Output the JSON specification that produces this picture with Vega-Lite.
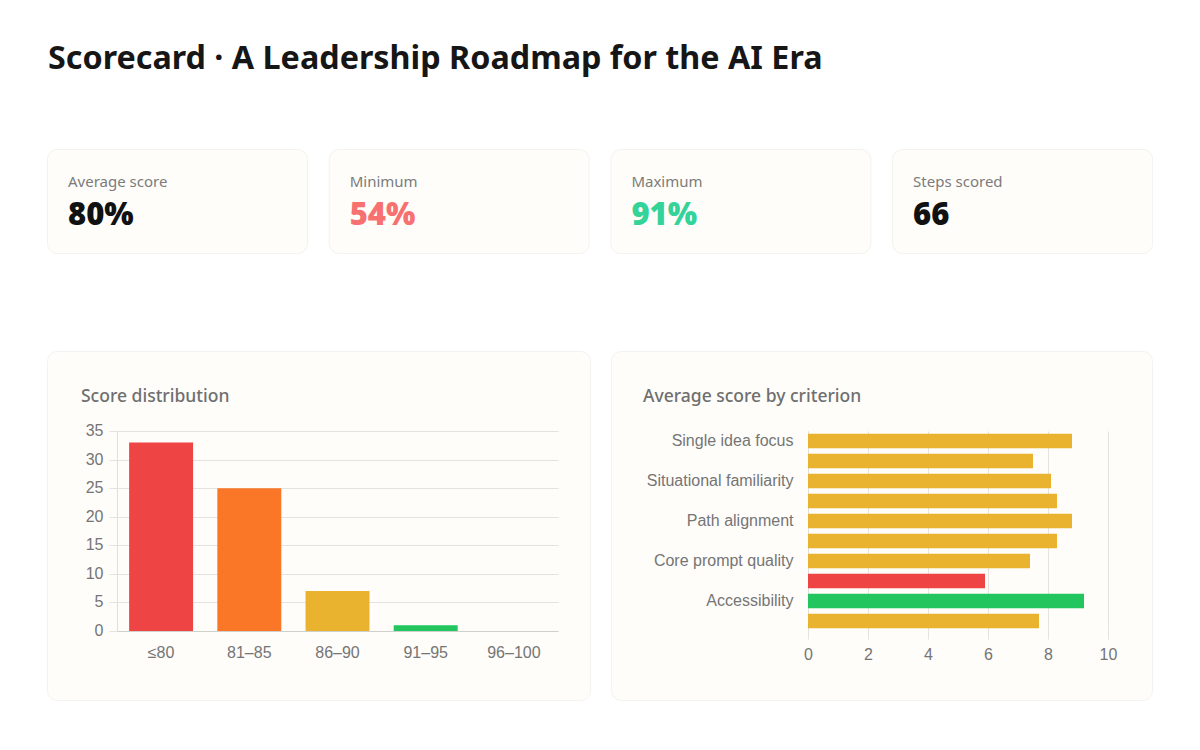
{
  "$schema": "https://vega.github.io/schema/vega-lite/v6.json",
  "background": "white",
  "padding": {"left": 46, "top": 43, "right": 0, "bottom": 0},
  "title": {
    "text": "Scorecard · A Leadership Roadmap for the AI Era",
    "anchor": "start",
    "frame": "group",
    "dx": 1,
    "offset": 73,
    "font": "Noto Sans",
    "fontSize": 32.3,
    "fontWeight": 700,
    "color": "#161616"
  },
  "config": {
    "font": "Liberation Sans",
    "view": {"fill": "#fefdfa", "stroke": "#f3f2ee", "strokeWidth": 1, "cornerRadius": 10},
    "title": {"font": "Noto Sans", "fontSize": 17.5, "fontWeight": 500, "color": "#6f6f6f", "anchor": "start", "frame": "group"},
    "axis": {
      "labelFont": "Liberation Sans",
      "labelFontSize": 16,
      "labelColor": "#757575",
      "gridColor": "#e4e3df",
      "domainColor": "#dededa",
      "tickColor": "#e4e3df",
      "tickSize": 8,
      "title": null
    }
  },
  "resolve": {"scale": {"color": "independent"}},
  "spacing": 96,
  "vconcat": [
    {
      "data": {
        "values": [
          {"label": "Average score", "value": "80%", "tone": "neutral"},
          {"label": "Minimum", "value": "54%", "tone": "low"},
          {"label": "Maximum", "value": "91%", "tone": "high"},
          {"label": "Steps scored", "value": "66", "tone": "neutral"}
        ]
      },
      "facet": {
        "column": {
          "field": "label",
          "header": null,
          "sort": ["Average score", "Minimum", "Maximum", "Steps scored"]
        }
      },
      "spacing": 19.7,
      "spec": {
        "width": 260,
        "height": 104,
        "view": {"fill": "#fefdfa", "stroke": "#f3f2ee", "strokeWidth": 1, "cornerRadius": 10},
        "layer": [
          {
            "mark": {"type": "text", "align": "left", "baseline": "middle", "dx": -109, "dy": -19, "font": "Noto Sans", "fontSize": 15, "color": "#7b7b7b"},
            "encoding": {"text": {"field": "label"}}
          },
          {
            "mark": {"type": "text", "align": "left", "baseline": "middle", "dx": -109, "dy": 15, "font": "Noto Sans", "fontSize": 31, "fontWeight": 900},
            "encoding": {
              "text": {"field": "value"},
              "color": {
                "field": "tone",
                "scale": {"domain": ["neutral", "low", "high"], "range": ["#111111", "#f87171", "#34d399"]},
                "legend": null
              }
            }
          }
        ]
      }
    },
    {
      "spacing": 19,
      "resolve": {"scale": {"color": "independent"}},
      "hconcat": [
        {
          "width": 543,
          "height": 349,
          "title": {"text": "Score distribution", "offset": -54, "dx": 34},
          "data": {
            "values": [
              {"bucket": "≤80", "steps": 33},
              {"bucket": "81–85", "steps": 25},
              {"bucket": "86–90", "steps": 7},
              {"bucket": "91–95", "steps": 1},
              {"bucket": "96–100", "steps": 0}
            ]
          },
          "mark": "bar",
          "encoding": {
            "x": {
              "field": "bucket",
              "type": "nominal",
              "sort": null,
              "scale": {"range": [70, 511], "paddingInner": 0.275, "paddingOuter": 0.1375},
              "axis": {"offset": -69, "labelAngle": 0, "ticks": false, "labelPadding": 13, "domainColor": "#cfcfcb", "grid": false}
            },
            "y": {
              "field": "steps",
              "type": "quantitative",
              "scale": {"domain": [0, 35], "range": [280, 80], "nice": false},
              "axis": {"offset": -70, "values": [0, 5, 10, 15, 20, 25, 30, 35], "grid": true, "labelPadding": 6, "labelOffset": -0.5}
            },
            "color": {
              "field": "bucket",
              "sort": null,
              "scale": {"domain": ["≤80", "81–85", "86–90", "91–95", "96–100"], "range": ["#ef4444", "#f97726", "#eab32f", "#22c55e", "#16a34a"]},
              "legend": null
            }
          }
        },
        {
          "width": 541,
          "height": 349,
          "title": {"text": "Average score by criterion", "offset": -54, "dx": 32},
          "data": {
            "values": [
              {"criterion": "Single idea focus", "score": 8.8, "level": "mid"},
              {"criterion": "Criterion 2", "score": 7.5, "level": "mid"},
              {"criterion": "Situational familiarity", "score": 8.1, "level": "mid"},
              {"criterion": "Criterion 4", "score": 8.3, "level": "mid"},
              {"criterion": "Path alignment", "score": 8.8, "level": "mid"},
              {"criterion": "Criterion 6", "score": 8.3, "level": "mid"},
              {"criterion": "Core prompt quality", "score": 7.4, "level": "mid"},
              {"criterion": "Criterion 8", "score": 5.9, "level": "low"},
              {"criterion": "Accessibility", "score": 9.2, "level": "high"},
              {"criterion": "Criterion 10", "score": 7.7, "level": "mid"}
            ]
          },
          "encoding": {
            "y": {
              "field": "criterion",
              "type": "nominal",
              "sort": null,
              "scale": {"range": [80, 280], "paddingInner": 0.28, "paddingOuter": 0.14},
              "axis": {
                "offset": -197,
                "values": ["Single idea focus", "Situational familiarity", "Path alignment", "Core prompt quality", "Accessibility"],
                "ticks": false,
                "labelPadding": 15,
                "labelOffset": 0,
                "grid": false
              }
            },
            "color": {
              "field": "level",
              "scale": {"domain": ["mid", "low", "high"], "range": ["#eab32f", "#ef4444", "#22c55e"]},
              "legend": null
            }
          },
          "layer": [
            {
              "mark": {"type": "bar", "opacity": 0},
              "encoding": {
                "x": {
                  "field": "score",
                  "type": "quantitative",
                  "scale": {"domain": [0, 10], "range": [197, 497], "nice": false},
                  "axis": {"orient": "top", "offset": -80, "values": [0, 2, 4, 6, 8, 10], "grid": true, "labels": false, "ticks": false, "domain": false}
                }
              }
            },
            {
              "mark": "bar",
              "encoding": {
                "x": {
                  "field": "score",
                  "type": "quantitative",
                  "scale": {"domain": [0, 10], "range": [197, 497], "nice": false},
                  "axis": {"orient": "bottom", "offset": -69, "values": [0, 2, 4, 6, 8, 10], "grid": false, "domain": false, "labelPadding": 7, "labelAngle": 0, "labelFlush": false}
                }
              }
            }
          ],
          "resolve": {"axis": {"x": "independent"}}
        }
      ]
    }
  ]
}
